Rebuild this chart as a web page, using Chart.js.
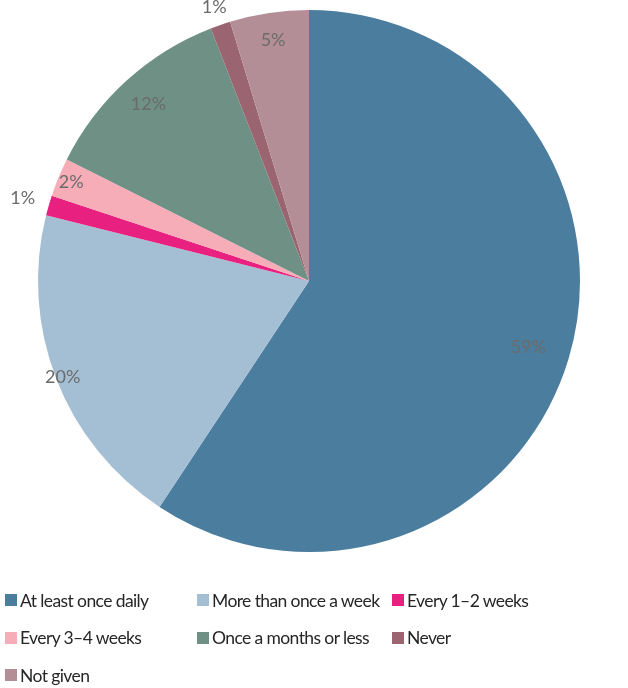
<!DOCTYPE html>
<html>
<head>
<meta charset="utf-8">
<script src="https://cdn.jsdelivr.net/npm/chart.js@4.4.1/dist/chart.umd.min.js"></script>
<style>
  html, body { margin: 0; padding: 0; background: #fff; }
  #wrap { position: relative; width: 628px; height: 688px; }
  #wrap canvas { position: absolute; left: 0; top: 0; }
  #legend {
    position: absolute; left: 5px; top: 586px;
    display: grid; grid-template-columns: 192px 195px auto;
    grid-auto-rows: 37.5px;
    font-family: Lato, sans-serif; font-size: 17.5px; letter-spacing: -0.6px;
    color: #262626; white-space: nowrap;
  }
  .item { display: flex; align-items: center; height: 28px; }
  .box { width: 12px; height: 12px; margin-right: 3px; flex: none; }
</style>
</head>
<body>
<div id="wrap">
  <canvas id="chart" width="628" height="688"></canvas>
  <div id="legend"></div>
</div>
<script>
const categories = [
  "At least once daily",
  "More than once a week",
  "Every 1\u20132 weeks",
  "Every 3\u20134 weeks",
  "Once a months or less",
  "Never",
  "Not given"
]
const shares = [59.3, 19.6, 1.2, 2.3, 11.7, 1.2, 4.7]
const colors = ["#4b7d9f", "#a4bed4", "#e8207f", "#f7adb7", "#6f9185", "#9a6571", "#b48e96"]

// radial position of each percentage label, as a fraction of the radius
const labelRadius = [0.845, 0.975, 1.1, 0.95, 0.88, 1.07, 0.9]

const pieLabels = {
  id: "pieLabels",
  afterDatasetsDraw(chart) {
    const ctx = chart.ctx
    const meta = chart.getDatasetMeta(0)
    ctx.save()
    ctx.font = "18px Lato, sans-serif"
    ctx.fillStyle = "#6b6b6b"
    ctx.textAlign = "center"
    ctx.textBaseline = "middle"
    meta.data.forEach((arc, i) => {
      const mid = (arc.startAngle + arc.endAngle) / 2
      const r = arc.outerRadius * labelRadius[i]
      const x = arc.x + Math.cos(mid) * r
      const y = arc.y + Math.sin(mid) * r
      ctx.fillText(Math.round(shares[i]) + "%", x, y)
    })
    ctx.restore()
  }
}

new Chart(document.getElementById("chart"), {
  type: "pie",
  data: {
    labels: categories,
    datasets: [{ data: shares, backgroundColor: colors, borderWidth: 0 }]
  },
  options: {
    responsive: false,
    animation: false,
    layout: { padding: { left: 38, right: 48, top: 10, bottom: 136 } },
    plugins: {
      legend: { display: false },
      tooltip: { enabled: false }
    }
  },
  plugins: [pieLabels]
})

const legend = document.getElementById("legend")
categories.forEach((name, i) => {
  const item = document.createElement("div")
  item.className = "item"
  item.innerHTML = `<span class="box" style="background:${colors[i]}"></span><span>${name}</span>`
  legend.appendChild(item)
})
</script>
</body>
</html>
